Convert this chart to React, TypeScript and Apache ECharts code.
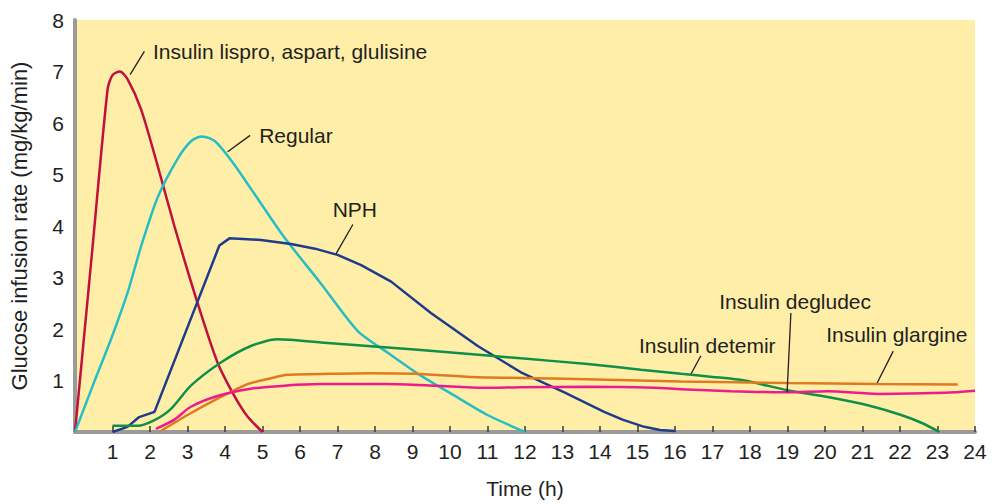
import React, { useEffect, useRef } from "react";
import * as echarts from "echarts";

const FONT = "'Liberation Sans', Arial, Helvetica, sans-serif";
const TEXT = "#231F20";

// Time (h), glucose infusion rate (mg/kg/min)
const lispro: number[][] = [[0, 0], [0.45, 3.45], [0.87, 6.66], [1.0, 6.93], [1.2, 7.0], [1.4, 6.85], [1.76, 6.27], [2.2, 5.18], [2.65, 4.0], [3.27, 2.5], [3.8, 1.35], [4.25, 0.7], [4.6, 0.3], [5.0, 0]];
const regular: number[][] = [[0, 0], [0.5, 0.95], [0.96, 1.8], [1.4, 2.7], [1.76, 3.6], [2.2, 4.55], [2.74, 5.31], [3.1, 5.65], [3.36, 5.74], [3.6, 5.7], [3.8, 5.6], [4.25, 5.19], [4.9, 4.5], [5.58, 3.78], [6.56, 2.88], [7.54, 1.96], [8.34, 1.54], [9.23, 1.09], [10.11, 0.71], [11.0, 0.33], [12.0, 0]];
const nph: number[][] = [[1.0, 0], [1.4, 0.1], [1.71, 0.29], [2.12, 0.39], [3.85, 3.62], [4.12, 3.76], [4.96, 3.73], [5.76, 3.65], [6.4, 3.56], [7.0, 3.44], [7.63, 3.24], [8.43, 2.92], [9.49, 2.31], [10.74, 1.67], [11.89, 1.16], [13.05, 0.77], [14.11, 0.39], [14.6, 0.24], [15.18, 0.1], [15.6, 0.04], [16.0, 0.02]];
const detemir: number[][] = [[1.0, 0.12], [1.67, 0.12], [2.12, 0.23], [2.56, 0.45], [3.09, 0.9], [3.89, 1.35], [4.69, 1.67], [5.4, 1.8], [6.56, 1.74], [8.34, 1.64], [10.11, 1.54], [11.89, 1.43], [13.67, 1.32], [15.09, 1.21], [16.16, 1.13], [17.0, 1.07], [17.85, 1.0], [19.0, 0.81], [20.07, 0.68], [21.14, 0.52], [22.03, 0.33], [22.6, 0.17], [23.05, 0]];
const glargine: number[][] = [[2.29, 0.02], [3.0, 0.33], [3.89, 0.68], [4.6, 0.93], [5.14, 1.03], [5.67, 1.11], [6.83, 1.13], [7.89, 1.14], [9.05, 1.13], [10.56, 1.07], [12.78, 1.04], [16.16, 0.98], [19.0, 0.95], [21.4, 0.93], [23.54, 0.92]];
const degludec: number[][] = [[2.16, 0.06], [2.65, 0.24], [3.09, 0.49], [3.8, 0.7], [4.69, 0.84], [5.58, 0.9], [6.56, 0.93], [8.34, 0.93], [9.6, 0.9], [10.91, 0.86], [11.89, 0.87], [13.67, 0.88], [15.45, 0.86], [16.16, 0.83], [17.5, 0.79], [19.0, 0.77], [20.07, 0.79], [21.4, 0.74], [23.18, 0.76], [24.0, 0.8]];

const seriesNames = ["Insulin lispro, aspart, glulisine", "Regular", "NPH", "Insulin detemir", "Insulin glargine", "Insulin degludec"];
const seriesColors = ["#C0103F", "#27BDC6", "#1F3C8C", "#0E9048", "#E07A20", "#EC1C8C"];
const seriesData = [lispro, regular, nph, detemir, glargine, degludec];
const seriesSmooth: (number | boolean)[] = [0.25, 0.25, false, 0.25, 0.25, 0.25];

// annotation label anchor (data coords) and leader line (data coords)
const annotations = [
  { text: "Insulin lispro, aspart, glulisine", at: [2.08, 7.39], from: [1.85, 7.39], to: [1.47, 6.94] },
  { text: "Regular", at: [4.91, 5.76], from: [4.67, 5.76], to: [4.07, 5.44] },
  { text: "NPH", at: [6.87, 4.32], from: [7.41, 4.03], to: [6.96, 3.46] },
  { text: "Insulin detemir", at: [15.04, 1.67], from: [16.69, 1.48], to: [16.43, 1.13] },
  { text: "Insulin degludec", at: [17.18, 2.53], from: [19.09, 2.31], to: [18.99, 0.77] },
  { text: "Insulin glargine", at: [20.03, 1.89], from: [21.82, 1.57], to: [21.39, 0.95] },
];

export default function App() {
  const ref = useRef<HTMLDivElement>(null);
  useEffect(() => {
    document.body.style.margin = "0";
    const chart = echarts.init(ref.current!, null, { renderer: "svg", width: 992, height: 504 });
    chart.setOption({
      animation: false,
      backgroundColor: "#ffffff",
      grid: { left: 74, right: 17, top: 20, bottom: 67, show: true, backgroundColor: "#FFEEA8", borderWidth: 0 },
      xAxis: [
        {
          type: "value", min: 0, max: 24, interval: 1, position: "bottom",
          name: "Time (h)", nameLocation: "middle", nameGap: 46,
          nameTextStyle: { fontSize: 21, color: TEXT, fontFamily: FONT },
          axisLine: { show: true, lineStyle: { color: "#3A3A3A", width: 2 } },
          axisTick: { show: true, inside: true, length: 6, lineStyle: { color: "#3A3A3A", width: 1.5 } },
          axisLabel: { fontSize: 21, color: TEXT, fontFamily: FONT, margin: 9, formatter: (v: number) => (v === 0 ? "" : String(v)) },
          splitLine: { show: false },
        },
        {
          type: "value", min: 0, max: 24, position: "top",
          axisLine: { show: true, lineStyle: { color: "#9A9A9A", width: 4 } },
          axisTick: { show: false }, axisLabel: { show: false }, splitLine: { show: false },
        },
      ],
      yAxis: [
        {
          type: "value", min: 0, max: 8, interval: 1, position: "left",
          name: "Glucose infusion rate (mg/kg/min)", nameLocation: "middle", nameGap: 45,
          nameTextStyle: { fontSize: 22, color: TEXT, fontFamily: FONT },
          axisLine: { show: true, lineStyle: { color: "#3A3A3A", width: 2 } },
          axisTick: { show: false },
          axisLabel: { fontSize: 21, color: TEXT, fontFamily: FONT, margin: 11, formatter: (v: number) => (v === 0 ? "" : String(v)) },
          splitLine: { show: false },
        },
        {
          type: "value", min: 0, max: 8, position: "right",
          axisLine: { show: true, lineStyle: { color: "#9A9A9A", width: 4 } },
          axisTick: { show: false }, axisLabel: { show: false }, splitLine: { show: false },
        },
      ],
      series: seriesData.map((d, i) => ({
        name: seriesNames[i],
        type: "line",
        data: d,
        xAxisIndex: 0,
        yAxisIndex: 0,
        showSymbol: false,
        smooth: seriesSmooth[i],
        lineStyle: { color: seriesColors[i], width: 2.5 },
        itemStyle: { color: seriesColors[i] },
        z: 3,
      })),
    });
    const graphics: any[] = [];
    annotations.forEach((a) => {
      const t = chart.convertToPixel({ gridIndex: 0 }, a.at) as number[];
      const p1 = chart.convertToPixel({ gridIndex: 0 }, a.from) as number[];
      const p2 = chart.convertToPixel({ gridIndex: 0 }, a.to) as number[];
      graphics.push({
        type: "text", x: t[0], y: t[1], z: 10,
        style: { text: a.text, fontSize: 21, fill: TEXT, fontFamily: FONT, align: "left", verticalAlign: "middle" },
      });
      graphics.push({
        type: "line", z: 10,
        shape: { x1: p1[0], y1: p1[1], x2: p2[0], y2: p2[1] },
        style: { stroke: TEXT, lineWidth: 1.3 },
      });
    });
    chart.setOption({ graphic: graphics });
    return () => chart.dispose();
  }, []);
  return <div ref={ref} style={{ position: "fixed", left: 0, top: 0, width: 992, height: 504 }} />;
}
